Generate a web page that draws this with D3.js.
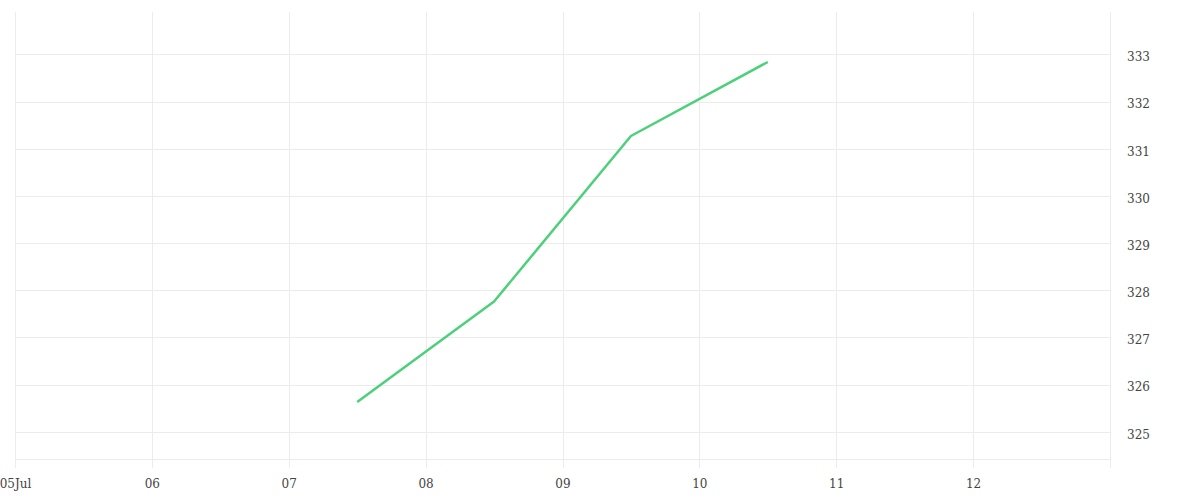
<!DOCTYPE html>
<html>
<head>
<meta charset="utf-8">
<script src="https://cdn.jsdelivr.net/npm/d3@7"></script>
<style>
  body { margin: 0; background: #fff; }
  svg { display: block; }
  .grid line, .grid path { stroke: #ececec; shape-rendering: crispEdges; }
  .axis text { font-family: "DejaVu Serif", serif; font-size: 12px; fill: #444; }
</style>
</head>
<body>
<svg id="chart" width="1200" height="500"></svg>
<script>
// data
const dates = ["2023-07-07T12:00", "2023-07-08T12:00", "2023-07-09T12:00", "2023-07-10T12:00"];
const values = [325.63, 327.76, 331.27, 332.84];
const yTicks = [325, 326, 327, 328, 329, 330, 331, 332, 333];
const xStart = "2023-07-05";
const xEnd = "2023-07-13";

const width = 1200;
const height = 500;
const margin = { top: 12, right: 90, bottom: 41, left: 15 };
const innerWidth = width - margin.left - margin.right;
const innerHeight = height - margin.top - margin.bottom;

const parse = d3.timeParse("%Y-%m-%dT%H:%M");
const parseDay = d3.timeParse("%Y-%m-%d");
const data = dates.map((d, i) => ({ date: parse(d), value: values[i] }));

const svg = d3.select("#chart");
const root = svg.append("g").attr("transform", `translate(${margin.left},${margin.top})`);

const x = d3.scaleTime().domain([parseDay(xStart), parseDay(xEnd)]).range([0, innerWidth]);
const y = d3.scaleLinear().domain([324.42, 333.9]).range([innerHeight, 0]);

const dayTicks = d3.timeDay.range(parseDay(xStart), d3.timeDay.offset(parseDay(xEnd), 1));
const lastDay = +parseDay(xEnd);
const fmtFirst = d3.timeFormat("%d%b");
const fmtDay = d3.timeFormat("%d");

// horizontal grid + right value labels
const yAxisGroup = root
  .append("g")
  .attr("class", "grid axis")
  .attr("transform", `translate(${innerWidth},0)`)
  .call(d3.axisRight(y).tickValues(yTicks).tickSize(-innerWidth).tickPadding(17).tickFormat(d3.format("d")));
yAxisGroup.select(".domain").remove();
yAxisGroup.selectAll("text").attr("dy", "0.53em");

// bottom border of the plot
root
  .append("line")
  .attr("class", "grid")
  .attr("x1", 0)
  .attr("x2", innerWidth)
  .attr("y1", innerHeight)
  .attr("y2", innerHeight)
  .attr("stroke", "#ececec")
  .attr("shape-rendering", "crispEdges");

// vertical grid + day labels
const xAxisGroup = root
  .append("g")
  .attr("class", "grid axis")
  .attr("transform", `translate(0,${innerHeight + 9})`)
  .call(
    d3
      .axisBottom(x)
      .tickValues(dayTicks)
      .tickSize(-(innerHeight + 9))
      .tickPadding(11)
      .tickFormat((d, i) => (+d === lastDay ? "" : i === 0 ? fmtFirst(d) : fmtDay(d)))
  );
xAxisGroup.select(".domain").remove();

const line = d3
  .line()
  .x((d) => x(d.date))
  .y((d) => y(d.value));

root
  .append("path")
  .datum(data)
  .attr("fill", "none")
  .attr("stroke", "#4cd07a")
  .attr("stroke-width", 2.5)
  .attr("stroke-linejoin", "round")
  .attr("d", line);
</script>
</body>
</html>
